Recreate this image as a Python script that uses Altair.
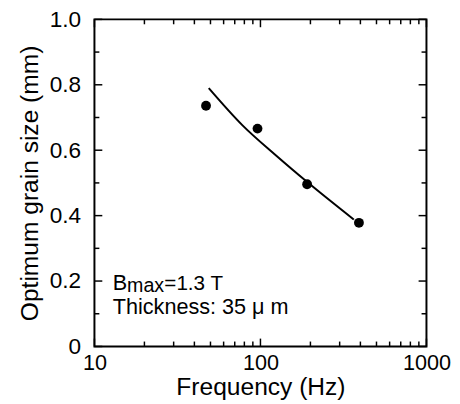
import altair as alt
import pandas as pd

# measured data points
freq_pts = [47, 96, 191, 392]
grain_pts = [0.736, 0.666, 0.496, 0.378]

# fitted curve
curve_freq = [48.8, 78, 122.7, 193, 365]
curve_grain = [0.790, 0.676, 0.586, 0.501, 0.388]

x_major = [10, 100, 1000]
x_minor = [20, 30, 40, 50, 60, 70, 80, 90, 200, 300, 400, 500, 600, 700, 800, 900]
y_major = [0, 0.2, 0.4, 0.6, 0.8, 1.0]
y_minor = [0.1, 0.3, 0.5, 0.7, 0.9]

ann_f = [12.9]
ann_line1_g = [0.172]
ann_line2_g = [0.099]

FONT = "Liberation Sans"
W, H = 338, 333
MAJ, MIN = 8, 5

pts = pd.DataFrame({"f": freq_pts, "g": grain_pts})
curve = pd.DataFrame({"f": curve_freq, "g": curve_grain})

x_scale = alt.Scale(type="log", domain=[10, 1000], nice=False)
y_scale = alt.Scale(domain=[0, 1], nice=False, zero=True)

x_axis = alt.Axis(
    title="Frequency (Hz)",
    values=x_major,
    labelExpr="format(datum.value, 'd')",
    labelFlush=False,
    labelOverlap=False,
    labelFont=FONT,
    labelFontSize=22,
    labelColor="black",
    labelPadding=6,
    titleFont=FONT,
    titleFontSize=25,
    titleFontWeight="normal",
    titleColor="black",
    titlePadding=2,
    ticks=False,
    domain=False,
    grid=False,
)

y_axis = alt.Axis(
    title="Optimum grain size (mm)",
    values=y_major,
    labelExpr="datum.value == 0 ? '0' : format(datum.value, '.1f')",
    labelOverlap=False,
    labelFlush=False,
    labelFont=FONT,
    labelFontSize=23,
    labelColor="black",
    labelPadding=14,
    titleFont=FONT,
    titleFontSize=25,
    titleFontWeight="normal",
    titleColor="black",
    titlePadding=7,
    ticks=False,
    domain=False,
    grid=False,
)

X = alt.X("f:Q", scale=x_scale, axis=x_axis)
Y = alt.Y("g:Q", scale=y_scale, axis=y_axis)

line = alt.Chart(curve).mark_line(color="black", strokeWidth=2, interpolate="monotone").encode(x=X, y=Y)
dots = alt.Chart(pts).mark_circle(color="black", opacity=1, size=100).encode(x=X, y=Y)

# inward tick marks on all four sides of the frame
def xticks(vals, y0, y1):
    return alt.Chart(pd.DataFrame({"f": vals})).mark_rule(color="black", strokeWidth=1.5).encode(
        x=X, y=alt.value(y0), y2=alt.value(y1)
    )

def yticks(vals, x0, x1):
    return alt.Chart(pd.DataFrame({"g": vals})).mark_rule(color="black", strokeWidth=1.5).encode(
        y=Y, x=alt.value(x0), x2=alt.value(x1)
    )

tick_layers = [
    xticks(x_major, H, H - MAJ), xticks(x_major, 0, MAJ),
    xticks(x_minor, H, H - MIN), xticks(x_minor, 0, MIN),
    yticks(y_major, 0, MAJ), yticks(y_major, W, W - MAJ),
    yticks(y_minor, 0, MIN), yticks(y_minor, W, W - MIN),
]

t1 = pd.DataFrame({"f": ann_f, "g": ann_line1_g})
t2 = pd.DataFrame({"f": ann_f, "g": ann_line2_g})

def txt(df, text, size, dx=0, dy=0):
    return alt.Chart(df).mark_text(
        align="left", baseline="alphabetic", font=FONT, fontSize=size, color="black",
        text=text, dx=dx, dy=dy,
    ).encode(x=X, y=Y)

txt_b = txt(t1, "B", 22)
txt_max = txt(t1, "max", 20, dx=14.5, dy=2)
txt_eq = txt(t1, "=1.3 T", 21, dx=52.5)
txt_th = txt(t2, "Thickness: 35 μ m", 22)

chart = alt.layer(line, *tick_layers, dots, txt_b, txt_max, txt_eq, txt_th).properties(
    width=W,
    height=H,
    autosize=alt.AutoSizeParams(type="none"),
    padding={"left": 88, "top": 8, "right": 26, "bottom": 55},
).configure_view(stroke="black", strokeWidth=2)

chart.save("out.html", embed_options={"renderer": "svg", "actions": False})
